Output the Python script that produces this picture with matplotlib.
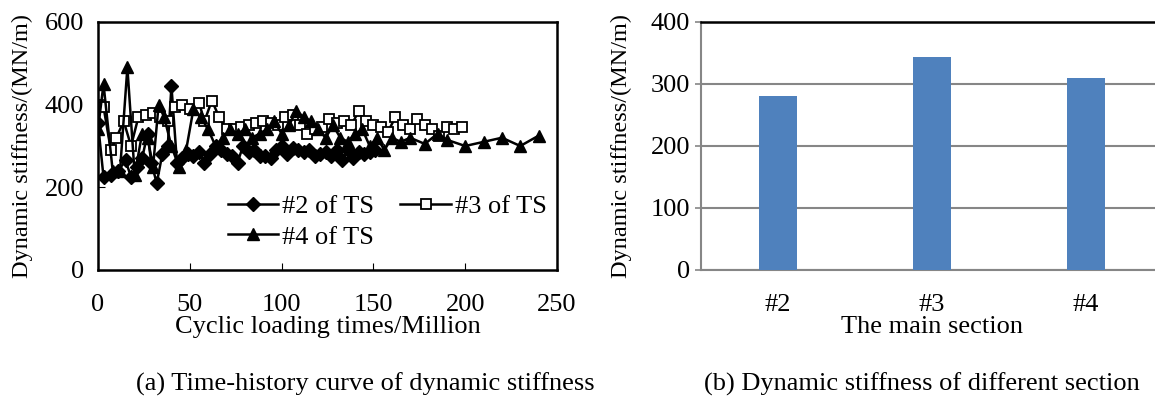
import matplotlib
matplotlib.use("Agg")
import matplotlib.pyplot as plt

plt.rcParams['font.family'] = ['Liberation Serif', 'DejaVu Serif']
plt.rcParams['font.size'] = 19

# (a) time-history of dynamic stiffness, MN/m vs cyclic loading (million)
x_ts2 = [0, 3, 7, 11, 15, 18, 21, 24, 27, 29, 32, 35, 38, 40, 43, 46, 49, 52, 55, 58,
         61, 64, 67, 70, 73, 76, 79, 82, 85, 88, 91, 94, 97, 100, 103, 106, 109, 112,
         115, 118, 121, 124, 127, 130, 133, 136, 139, 142, 145, 148, 151]
y_ts2 = [355, 225, 230, 240, 265, 225, 250, 270, 330, 260, 210, 280, 300, 445, 260, 270,
         280, 275, 285, 260, 280, 300, 290, 280, 275, 260, 300, 285, 290, 275, 275, 270,
         290, 300, 280, 295, 290, 285, 290, 275, 280, 285, 275, 290, 265, 290, 270, 285,
         280, 285, 290]

x_ts3 = [0, 3, 7, 10, 14, 18, 22, 26, 30, 34, 38, 42, 46, 50, 55, 58, 62, 66, 70, 74,
         78, 82, 86, 90, 94, 98, 102, 106, 110, 114, 118, 122, 126, 130, 134, 138, 142,
         146, 150, 154, 158, 162, 166, 170, 174, 178, 182, 186, 190, 194, 198]
y_ts3 = [400, 395, 290, 320, 360, 300, 370, 375, 380, 370, 360, 395, 400, 390, 405, 360,
         410, 370, 340, 340, 345, 350, 355, 360, 355, 350, 370, 375, 350, 330, 340, 345,
         365, 355, 360, 350, 385, 360, 350, 345, 335, 370, 350, 340, 365, 350, 340, 325,
         345, 340, 345]

x_ts4 = [0, 3, 8, 12, 16, 20, 24, 27, 30, 33, 36, 40, 44, 48, 52, 56, 60, 64, 68, 72,
         76, 80, 84, 88, 92, 96, 100, 104, 108, 112, 116, 120, 124, 128, 132, 136, 140,
         144, 148, 152, 156, 160, 165, 170, 178, 185, 190, 200, 210, 220, 230, 240]
y_ts4 = [340, 450, 240, 240, 490, 230, 330, 320, 250, 400, 370, 300, 250, 290, 390, 370,
         340, 300, 320, 340, 330, 340, 320, 330, 340, 360, 330, 350, 385, 370, 360, 340,
         320, 350, 320, 310, 330, 340, 300, 320, 290, 320, 310, 320, 305, 330, 315, 300,
         310, 320, 300, 325]

# (b) dynamic stiffness of each main section
sections = ['#2', '#3', '#4']
stiffness = [280, 344, 309]

fig = plt.figure(figsize=(11.55, 3.98), dpi=100)

# ---- left panel
ax1 = fig.add_axes([98 / 1155, 1 - 270 / 398, (557 - 98) / 1155, 248 / 398])
l2, = ax1.plot(x_ts2, y_ts2, color='black', lw=1.8, marker='D', ms=7.5,
               mfc='black', mec='black', label='#2 of TS')
l3, = ax1.plot(x_ts3, y_ts3, color='black', lw=1.8, marker='s', ms=7.5,
               mfc='white', mec='black', mew=1.3, label='#3 of TS')
l4, = ax1.plot(x_ts4, y_ts4, color='black', lw=1.8, marker='^', ms=9,
               mfc='black', mec='black', label='#4 of TS')
ax1.set_xlim(0, 250)
ax1.set_ylim(0, 600)
ax1.set_xticks(range(0, 251, 50))
ax1.set_yticks(range(0, 601, 200))
ax1.tick_params(axis='x', direction='in', length=5, pad=17)
ax1.tick_params(axis='y', direction='in', length=5, pad=10)
for s in ax1.spines.values():
    s.set_linewidth(1.8)
ax1.set_xlabel('Cyclic loading times/Million', labelpad=0)
ax1.set_ylabel('Dynamic stiffness/(MN/m)', fontsize=17.5)
ax1.yaxis.set_label_coords(-0.142, 0.5)
ax1.legend([l2, l4, l3], ['#2 of TS', '#4 of TS', '#3 of TS'], ncol=2, frameon=False,
           loc='lower right', bbox_to_anchor=(1.0, 0.044), handlelength=1.9,
           handletextpad=0.15, columnspacing=1.0, labelspacing=0.25, borderaxespad=0)

# ---- right panel
ax2 = fig.add_axes([701 / 1155, 1 - 270 / 398, 462 / 1155, 248 / 398])
ax2.bar(range(len(sections)), stiffness, width=0.25, color='#4F81BD', zorder=3)
ax2.set_xlim(-0.5, 2.5)
ax2.set_ylim(0, 400)
ax2.set_yticks(range(0, 401, 100))
ax2.set_xticks(range(len(sections)))
ax2.set_xticklabels(sections)
ax2.yaxis.grid(True, color='#868686', lw=1.5, zorder=0)
ax2.tick_params(axis='x', length=0, pad=17)
ax2.tick_params(axis='y', length=4, width=1.2, color='#868686', pad=4)
ax2.spines['left'].set_color('#868686')
ax2.spines['bottom'].set_color('#868686')
ax2.spines['left'].set_linewidth(1.5)
ax2.spines['bottom'].set_linewidth(1.5)
ax2.spines['top'].set_color('black')
ax2.spines['top'].set_linewidth(1.8)
ax2.spines['right'].set_visible(False)
ax2.set_xlabel('The main section', labelpad=0)
ax2.set_ylabel('Dynamic stiffness/(MN/m)', fontsize=17.5)
ax2.yaxis.set_label_coords(-0.149, 0.5)

fig.text(365 / 1155, 1 - 384 / 398, '(a) Time-history curve of dynamic stiffness',
         ha='center', va='center')
fig.text(922 / 1155, 1 - 384 / 398, '(b) Dynamic stiffness of different section',
         ha='center', va='center')

fig.savefig('out.png', dpi=100)
